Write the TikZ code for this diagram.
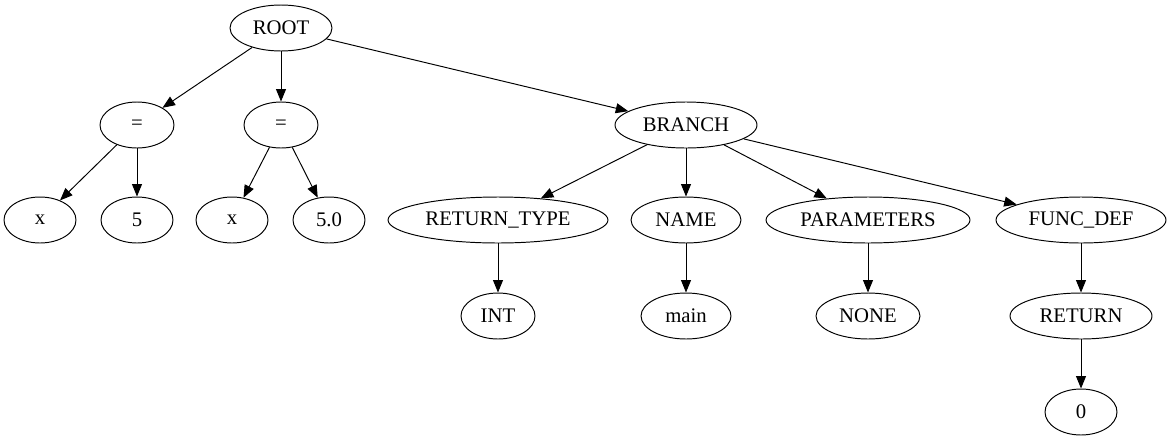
\documentclass[tikz,border=0pt]{standalone}
\usepackage{fontspec}
\setmainfont{Liberation Serif}
\usetikzlibrary{arrows.meta,shapes.geometric}
\tikzset{
  tnode/.style={draw,ellipse,inner sep=0pt,minimum height=0.92cm,
    line width=0.55pt,font=\fontsize{11.8}{13}\selectfont},
  edge/.style={line width=0.55pt,-{Triangle[length=0.25cm,width=0.2cm]}}
}
\begin{document}
\begin{tikzpicture}[x=0.02cm,y=-0.02cm]
  \useasboundingbox (0,0) rectangle (1172,443);
  % level 0 and 1
  \node[tnode,minimum width=2.04cm] (root) at (281,28) {ROOT};
  \node[tnode,minimum width=1.48cm] (eqa) at (137,125) {=};
  \node[tnode,minimum width=1.48cm] (eqb) at (281,125) {=};
  \node[tnode,minimum width=2.84cm] (branch) at (686,125) {BRANCH};
  % level 2
  \node[tnode,minimum width=1.44cm] (xa) at (40,220) {x};
  \node[tnode,minimum width=1.44cm] (five) at (137,220) {5};
  \node[tnode,minimum width=1.44cm] (xb) at (232,220) {x};
  \node[tnode,minimum width=1.44cm] (fivef) at (329,220) {5.0};
  \node[tnode,minimum width=4.4cm] (rtype) at (498,220) {RETURN\_TYPE};
  \node[tnode,minimum width=2.2cm] (name) at (686,220) {NAME};
  \node[tnode,minimum width=4.08cm] (params) at (868,220) {PARAMETERS};
  \node[tnode,minimum width=3.4cm] (fdef) at (1081,220) {FUNC\_DEF};
  % level 3 and 4
  \node[tnode,minimum width=1.48cm] (int) at (498,316) {INT};
  \node[tnode,minimum width=1.8cm] (main) at (686,316) {main};
  \node[tnode,minimum width=2.08cm] (none) at (868,316) {NONE};
  \node[tnode,minimum width=2.84cm] (ret) at (1081,316) {RETURN};
  \node[tnode,minimum width=1.44cm] (zero) at (1081,412) {0};

  \foreach \a/\b in {root/eqa,root/eqb,root/branch,eqa/xa,eqa/five,
      eqb/xb,eqb/fivef,branch/rtype,branch/name,branch/params,
      branch/fdef,rtype/int,name/main,params/none,fdef/ret,ret/zero}
    \draw[edge] (\a) -- (\b);
\end{tikzpicture}
\end{document}
